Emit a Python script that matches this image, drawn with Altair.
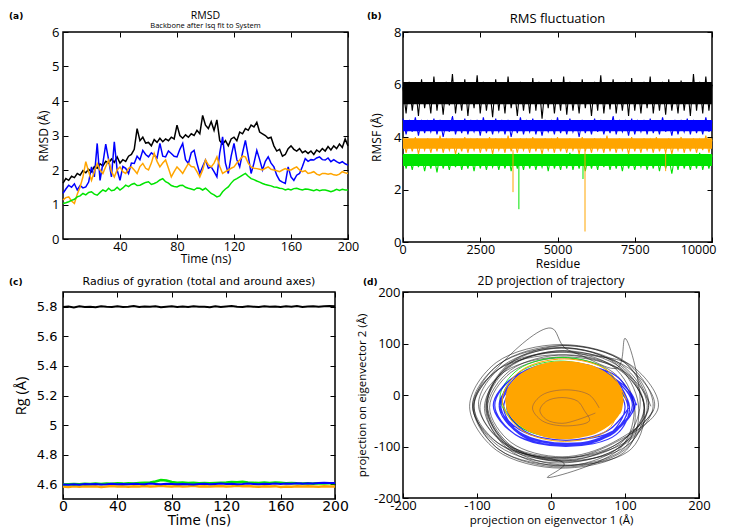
import altair as alt
import pandas as pd

COL = {"black": "#000000", "blue": "#0000ff", "green": "#00e400", "orange": "#ffa500"}

# ---------------- (a) RMSD ----------------
rmsd_time = list(range(0, 201, 2))
rmsd_black = [1.62, 1.75, 1.70, 1.82, 1.78, 1.90, 1.85, 1.98, 1.92, 2.02,
              1.95, 2.10, 2.05, 2.18, 2.12, 2.25, 2.20, 2.32, 2.22, 2.38,
              2.20, 2.30, 2.25, 2.40, 2.45, 2.60, 3.20, 2.85, 2.95, 2.78,
              2.80, 2.70, 2.88, 2.80, 2.92, 2.82, 2.90, 2.85, 2.95, 2.90,
              3.30, 3.00, 2.92, 3.02, 2.95, 3.05, 3.00, 3.15, 3.05, 3.58,
              3.30, 3.20, 3.40, 3.15, 3.45, 2.85, 2.75, 2.85, 2.70, 2.90,
              2.95, 2.85, 3.10, 3.05, 3.20, 3.15, 3.30, 3.25, 3.38, 3.10,
              3.05, 3.00, 2.92, 2.95, 2.70, 2.55, 2.60, 2.40, 2.45, 2.62,
              2.70, 2.60, 2.55, 2.62, 2.50, 2.55, 2.48, 2.55, 2.45, 2.58,
              2.52, 2.62, 2.55, 2.68, 2.58, 2.70, 2.62, 2.75, 2.65, 2.90,
              2.70]
rmsd_blue = [1.32, 1.45, 1.56, 1.50, 1.60, 1.42, 1.55, 1.48, 1.51, 1.65,
             2.09, 1.80, 2.77, 1.70, 2.20, 2.75, 2.30, 1.80, 2.82, 2.00,
             1.70, 2.10, 2.05, 1.90, 2.20, 2.19, 2.40, 2.30, 2.57, 2.45,
             2.38, 2.50, 2.43, 2.35, 2.77, 2.40, 2.38, 2.55, 2.48, 2.40,
             2.38, 2.60, 2.77, 2.30, 2.19, 2.50, 2.57, 2.20, 1.90, 2.10,
             2.29, 2.05, 2.09, 1.95, 1.80, 2.50, 2.96, 2.20, 1.90, 2.40,
             2.77, 2.30, 2.09, 2.50, 2.86, 2.40, 1.90, 2.20, 2.57, 2.30,
             2.00, 2.25, 2.38, 2.20, 2.09, 1.85, 1.70, 1.65, 1.61, 2.09,
             1.80, 1.70, 1.85, 1.90, 2.10, 2.33, 2.25, 2.30, 2.29, 2.35,
             2.38, 2.30, 2.29, 2.35, 2.24, 2.30, 2.24, 2.20, 2.24, 2.18,
             2.14]
rmsd_orange = [1.13, 1.20, 1.22, 1.10, 1.03, 1.30, 1.51, 1.80, 2.24, 1.95,
               1.70, 1.95, 2.19, 2.00, 1.90, 2.10, 2.29, 1.95, 1.80, 2.00,
               2.09, 1.95, 1.90, 2.05, 2.09, 2.00, 1.90, 2.10, 2.19, 2.05,
               2.00, 2.20, 2.48, 2.25, 2.09, 2.20, 2.29, 2.05, 1.80, 1.95,
               2.09, 2.00, 1.90, 2.05, 2.19, 2.10, 2.09, 1.95, 1.80, 2.00,
               2.29, 2.15, 2.09, 2.20, 2.38, 2.10, 1.90, 1.95, 2.00, 2.05,
               2.09, 2.20, 2.29, 2.40, 2.38, 2.20, 2.09, 2.05, 2.04, 2.02,
               2.00, 2.05, 2.09, 2.02, 2.00, 1.98, 1.95, 2.00, 2.04, 2.00,
               2.00, 2.05, 2.09, 2.00, 1.95, 1.98, 1.90, 1.92, 1.95, 1.88,
               1.85, 1.90, 1.90, 1.88, 1.90, 1.86, 1.85, 1.88, 1.95, 1.92,
               1.90]
rmsd_green = [1.03, 1.05, 1.08, 1.12, 1.15, 1.22, 1.25, 1.32, 1.28, 1.35,
              1.37, 1.30, 1.27, 1.35, 1.42, 1.38, 1.47, 1.40, 1.42, 1.50,
              1.42, 1.48, 1.56, 1.52, 1.58, 1.61, 1.55, 1.56, 1.60, 1.64,
              1.66, 1.58, 1.61, 1.65, 1.71, 1.75, 1.66, 1.62, 1.55, 1.52,
              1.51, 1.55, 1.56, 1.50, 1.47, 1.45, 1.42, 1.48, 1.47, 1.42,
              1.47, 1.40, 1.32, 1.28, 1.22, 1.25, 1.37, 1.45, 1.51, 1.62,
              1.71, 1.75, 1.80, 1.85, 1.90, 1.82, 1.75, 1.72, 1.68, 1.65,
              1.61, 1.58, 1.56, 1.54, 1.51, 1.50, 1.47, 1.46, 1.42, 1.45,
              1.42, 1.46, 1.47, 1.44, 1.42, 1.45, 1.44, 1.42, 1.40, 1.43,
              1.40, 1.42, 1.42, 1.40, 1.37, 1.40, 1.44, 1.41, 1.44, 1.42,
              1.42]

# ---------------- (b) RMSF ----------------
rmsf_residue = list(range(0, 10001, 100))
rmsf_black = [5.9, 4.9, 6.1, 5.0, 6.0, 4.8, 6.2, 5.1, 5.9, 4.9,
              6.3, 5.0, 6.0, 4.85, 6.1, 5.2, 6.4, 4.9, 5.9, 5.0,
              6.2, 4.8, 6.0, 5.1, 6.35, 4.9, 6.1, 5.0, 5.95, 4.75,
              6.2, 5.0, 6.0, 4.9, 6.3, 5.1, 5.9, 4.8, 6.1, 5.0,
              6.0, 4.9, 6.25, 5.0, 6.1, 4.7, 5.95, 5.1, 6.2, 4.9,
              6.0, 5.0, 6.3, 4.85, 6.1, 5.0, 5.9, 4.9, 6.2, 5.1,
              6.0, 4.8, 6.1, 5.0, 6.35, 4.9, 6.0, 5.05, 6.2, 4.9,
              5.95, 5.0, 6.1, 4.8, 6.25, 5.0, 6.0, 4.9, 6.1, 5.1,
              6.3, 4.9, 6.0, 5.0, 6.1, 4.85, 6.2, 5.0, 5.9, 4.9,
              6.15, 5.0, 6.0, 4.8, 6.4, 5.0, 6.1, 4.9, 6.3, 5.0,
              6.0]
rmsf_blue = [4.7, 4.1, 4.6, 4.2, 4.75, 4.05, 4.65, 4.15, 4.6, 4.2,
             4.7, 4.1, 4.65, 4.0, 4.6, 4.2, 4.8, 4.1, 4.6, 4.15,
             4.7, 4.1, 4.6, 4.2, 4.65, 4.05, 4.75, 4.15, 4.6, 4.1,
             4.7, 4.2, 4.6, 4.1, 4.65, 4.0, 4.6, 4.15, 4.75, 4.1,
             4.6, 4.2, 4.7, 4.1, 4.6, 4.05, 4.65, 4.2, 4.6, 4.1,
             4.75, 4.15, 4.6, 4.1, 4.7, 4.2, 4.6, 4.0, 4.65, 4.15,
             4.6, 4.1, 4.7, 4.2, 4.65, 4.1, 4.6, 4.15, 4.8, 4.1,
             4.6, 4.2, 4.65, 4.05, 4.7, 4.1, 4.6, 4.2, 4.65, 4.1,
             4.7, 4.15, 4.6, 4.1, 4.75, 4.2, 4.6, 4.05, 4.65, 4.1,
             4.6, 4.2, 4.7, 4.1, 4.65, 4.15, 4.6, 4.1, 4.75, 4.2,
             4.6]
rmsf_orange = [3.95, 3.4, 3.9, 3.45, 4.0, 3.35, 3.9, 3.5, 3.95, 3.4,
               3.9, 3.45, 4.05, 3.4, 3.9, 3.5, 3.95, 3.35, 3.9, 3.45,
               4.0, 3.4, 3.9, 3.5, 3.95, 3.4, 3.9, 3.45, 4.0, 3.35,
               3.95, 3.5, 3.9, 3.4, 4.05, 3.45, 3.9, 3.4, 3.95, 3.5,
               3.9, 3.4, 4.0, 3.45, 3.9, 3.35, 3.95, 3.5, 3.9, 3.4,
               4.0, 3.45, 3.9, 3.4, 3.95, 3.5, 3.9, 3.35, 4.0, 3.45,
               3.9, 3.4, 3.95, 3.5, 3.9, 3.4, 4.05, 3.45, 3.9, 3.4,
               3.95, 3.5, 3.9, 3.35, 4.0, 3.45, 3.9, 3.4, 3.95, 3.5,
               3.9, 3.4, 4.0, 3.45, 3.9, 3.4, 3.95, 3.35, 3.9, 3.5,
               4.0, 3.4, 3.9, 3.45, 3.95, 3.4, 3.9, 3.5, 4.05, 3.4,
               3.9]
rmsf_green = [3.3, 2.8, 3.25, 2.75, 3.35, 2.85, 3.3, 2.7, 3.25, 2.8,
              3.3, 2.65, 3.35, 2.8, 3.25, 2.75, 3.3, 2.85, 3.4, 2.75,
              3.25, 2.8, 3.3, 2.7, 3.35, 2.8, 3.25, 2.75, 3.3, 2.85,
              3.3, 2.75, 3.25, 2.8, 3.35, 2.7, 3.3, 2.8, 3.25, 2.75,
              3.35, 2.8, 3.3, 2.75, 3.25, 2.85, 3.3, 2.7, 3.35, 2.8,
              3.25, 2.75, 3.3, 2.8, 3.4, 2.75, 3.25, 2.8, 3.3, 2.7,
              3.3, 2.8, 3.25, 2.75, 3.35, 2.85, 3.3, 2.75, 3.25, 2.8,
              3.3, 2.7, 3.35, 2.8, 3.25, 2.75, 3.3, 2.85, 3.3, 2.75,
              3.25, 2.8, 3.35, 2.7, 3.3, 2.8, 3.25, 2.6, 3.3, 2.75,
              3.35, 2.8, 3.25, 2.75, 3.3, 2.8, 3.4, 2.75, 3.25, 2.8,
              3.3]
core_series = ["black", "blue", "orange", "green"]
core_low = [5.25, 4.22, 3.55, 2.9]
core_high = [6.1, 4.65, 3.95, 3.35]
spike_residue = [3560, 3750, 5825, 5890, 8500]
spike_top = [3.5, 2.9, 2.9, 3.5, 3.45]
spike_bottom = [1.9, 1.25, 2.4, 0.4, 2.7]
spike_series = ["orange", "green", "green", "orange", "orange"]

# ---------------- (c) Radius of gyration ----------------
rg_time = list(range(0, 201, 4))
rg_black = [5.798, 5.802, 5.796, 5.803, 5.799, 5.801, 5.797, 5.804, 5.800, 5.798,
            5.803, 5.799, 5.801, 5.805, 5.798, 5.802, 5.800, 5.804, 5.797, 5.801,
            5.803, 5.799, 5.802, 5.798, 5.804, 5.800, 5.801, 5.797, 5.803, 5.799,
            5.802, 5.805, 5.800, 5.798, 5.803, 5.801, 5.799, 5.804, 5.800, 5.802,
            5.798, 5.803, 5.801, 5.805, 5.799, 5.802, 5.804, 5.800, 5.803, 5.806,
            5.804]
rg_green = [4.598, 4.600, 4.602, 4.600, 4.603, 4.601, 4.604, 4.602, 4.605, 4.603,
            4.606, 4.604, 4.607, 4.605, 4.608, 4.610, 4.612, 4.618, 4.628, 4.625,
            4.615, 4.610, 4.612, 4.608, 4.610, 4.607, 4.609, 4.606, 4.608, 4.610,
            4.612, 4.615, 4.613, 4.616, 4.612, 4.610, 4.608, 4.611, 4.609, 4.612,
            4.610, 4.607, 4.609, 4.606, 4.605, 4.607, 4.604, 4.606, 4.605, 4.607,
            4.606]
rg_blue = [4.598, 4.596, 4.600, 4.597, 4.601, 4.599, 4.602, 4.598, 4.600, 4.603,
           4.600, 4.602, 4.599, 4.603, 4.601, 4.600, 4.604, 4.602, 4.600, 4.603,
           4.601, 4.599, 4.602, 4.600, 4.598, 4.601, 4.603, 4.600, 4.602, 4.604,
           4.601, 4.603, 4.600, 4.602, 4.605, 4.602, 4.600, 4.603, 4.601, 4.604,
           4.602, 4.605, 4.603, 4.606, 4.604, 4.607, 4.605, 4.608, 4.610, 4.608,
           4.609]
rg_orange = [4.585, 4.582, 4.586, 4.583, 4.587, 4.584, 4.586, 4.582, 4.585, 4.588,
             4.584, 4.586, 4.583, 4.587, 4.585, 4.588, 4.584, 4.586, 4.590, 4.587,
             4.585, 4.588, 4.584, 4.586, 4.589, 4.585, 4.587, 4.584, 4.586, 4.588,
             4.585, 4.587, 4.590, 4.586, 4.588, 4.585, 4.583, 4.586, 4.584, 4.587,
             4.582, 4.585, 4.583, 4.586, 4.584, 4.587, 4.585, 4.583, 4.586, 4.584,
             4.585]

# ---------------- (d) 2D projection ----------------
proj_black_x = [135, 100, 15, -70, -104, -72, 15, 100,
                126, 95, 18, -58, -90, -57, 18, -5, 94,
                112, 84, 12, -60, -87, -59, 12, 83,
                145, 109, 20, 0, -69, -105, -70, 20, 109,
                126, 93, 14, -65, -98, -64, 14, 93,
                120, 100, 90, 16, -58, -88, -58, 16, 90,
                126, 92, 10, -72, -106, -72, 10, 92,
                132, 100, 22, -56, -88, -56, 22, 100,
                113, 84, 15, -54, -83, -54, 15, 84,
                140, 104, 18, -68, -104, -68, 18, 104,
                130, 95, 12, -71, -106, -71, 12, 95,
                126, 95, 20, -55, -86, -55, 20, 95,
                138, 102, 14, -74, -110, -74, 14, 102,
                118, 88, 16, -56, -86, -56, 16, 88,
                132, 99, 18, -63, -96, -63, 18, 99, 138]
proj_black_y = [-22, 63, 96, 60, -20, -104, -140, -106,
                -25, 52, 86, 54, -26, -102, -134, -160, -103,
                -20, 55, 83, 53, -20, -95, -124, -95,
                -24, 57, 90, 130, 58, -24, -106, -137, -104,
                -18, 58, 91, 57, -18, -94, -126, -95,
                -26, 110, 53, 86, 52, -27, -105, -138, -104,
                -22, 49, 78, 49, -22, -93, -122, -93,
                -20, 62, 96, 62, -20, -102, -136, -102,
                -24, 44, 72, 44, -24, -92, -120, -92,
                -22, 53, 84, 53, -22, -97, -128, -97,
                -20, 59, 92, 59, -20, -99, -132, -99,
                -26, 48, 78, 48, -26, -100, -130, -100,
                -22, 63, 98, 63, -22, -107, -142, -107,
                -18, 60, 92, 60, -18, -96, -128, -96,
                -24, 45, 74, 45, -24, -93, -122, -93, -30]
proj_green_x = [99, 74, 15, -44, -69, -44, 15, 74, 90, 67, 12, -43, -66, -43, 12, 67, 95]
proj_green_y = [-5, 50, 73, 50, -5, -60, -83, -60, -8, 44, 66, 44, -8, -60, -82, -60, -6]
proj_blue_x = [116, 88, 20, -48, -76, -48, 20, 88,
               106, 80, 18, -44, -70, -44, 18, 80,
               114, 87, 22, -43, -70, -43, 22, 87,
               104, 79, 20, -39, -64, -39, 20, 79,
               110, 82, 16, -50, -78, -50, 16, 82,
               112, 86, 22, -42, -68, -42, 22, 86,
               104, 79, 18, -43, -68, -43, 18, 79,
               100, 77, 20, -37, -60, -37, 20, 77, 105]
proj_blue_y = [-20, 37, 60, 37, -20, -77, -100, -77,
               -22, 30, 52, 30, -22, -74, -96, -74,
               -18, 31, 52, 31, -18, -67, -88, -67,
               -24, 30, 52, 30, -24, -78, -100, -78,
               -20, 35, 58, 35, -20, -75, -98, -75,
               -22, 29, 50, 29, -22, -73, -94, -73,
               -18, 40, 64, 40, -18, -76, -100, -76,
               -22, 25, 44, 25, -22, -69, -88, -69, -25]
orange_area_x = [-62, -60, -56, -50, -40, -25, -10, 5, 18, 30, 45, 60, 72, 84, 92, 96, 98]
orange_area_hi = [-10, 7, 19, 30, 42, 54, 61, 65, 66, 65, 61, 55, 46, 33, 19, 8, -10]
orange_area_lo = [-10, -27, -39, -50, -62, -74, -81, -85, -86, -85, -81, -75, -66, -53, -39, -28, -10]
proj_orange_x = [102, 77, 18, -41, -66, -41, 18, 77, 92, 71, 20, -31, -52, -31, 20, 71, 98]
proj_orange_y = [-10, 47, 70, 47, -10, -67, -90, -67, -8, 41, 62, 41, -8, -57, -78, -57, -12]
proj_inner_x = [65, 52, 20, -12, -25, -12, 20, 52, 45, 36, 15, -6, -15, -6, 15, 36, 60]
proj_inner_y = [-25, 0, 10, 0, -25, -50, -60, -50, -30, -12, -5, -12, -30, -48, -55, -48, -35]

TICK = 5
SANS = "Open Sans"
WIDE = "DejaVu Sans"
PLAIN = "'' + datum.value"


def axis_main(orient, values, title, lab_font, lab_size, tit_font, tit_size,
              lab_pad, tit_pad, expr=PLAIN, flush=False):
    kw = dict(orient=orient, values=values, title=title, offset=-TICK, tickSize=TICK,
              tickColor="black", tickWidth=1, domain=False, grid=False,
              labelPadding=lab_pad, labelFont=lab_font, labelFontSize=lab_size,
              labelColor="black", labelFlush=flush, labelOverlap=False,
              labelExpr=expr, minExtent=0,
              titleFont=tit_font, titleFontSize=tit_size, titleFontWeight="normal",
              titleColor="black", titlePadding=tit_pad)
    if flush:
        kw["labelFlushOffset"] = 4
    return alt.Axis(**kw)


def axis_mirror(orient, values):
    return alt.Axis(orient=orient, values=values, title=None, labels=False,
                    offset=-TICK, tickSize=TICK, tickColor="black", tickWidth=1,
                    domain=False, grid=False, minExtent=0, maxExtent=0)


def panel_label(text, dx, dy):
    return alt.Chart(pd.DataFrame({"lab": [text]})).mark_text(
        align="left", baseline="top", font=WIDE, fontSize=9, fontWeight="bold",
        color="black").encode(text="lab:N", x=alt.value(dx), y=alt.value(dy))


# ---------- panel (a)
df_a = pd.DataFrame({"t": rmsd_time, "black": rmsd_black, "blue": rmsd_blue,
                     "orange": rmsd_orange, "green": rmsd_green})
xa = alt.Scale(domain=[0, 200], nice=False, zero=False)
ya = alt.Scale(domain=[0, 6], nice=False, zero=False)
xv_a = [40, 80, 120, 160, 200]
yv_a = [0, 1, 2, 3, 4, 5, 6]
base_a = alt.Chart(df_a)
la = [
    base_a.mark_line(color=COL["black"], strokeWidth=1.5).encode(
        x=alt.X("t:Q", scale=xa, axis=axis_main("bottom", xv_a, "Time (ns)", SANS, 12.5, SANS, 12, 1, 1)),
        y=alt.Y("black:Q", scale=ya, axis=axis_main("left", yv_a, "RMSD (Å)", SANS, 13, SANS, 12, 4, 1))),
    base_a.mark_line(color=COL["blue"], strokeWidth=1.5).encode(
        x=alt.X("t:Q", scale=xa, axis=axis_mirror("top", xv_a)),
        y=alt.Y("blue:Q", scale=ya, axis=axis_mirror("right", yv_a))),
    base_a.mark_line(color=COL["orange"], strokeWidth=1.5).encode(
        x=alt.X("t:Q", scale=xa, axis=None), y=alt.Y("orange:Q", scale=ya, axis=None)),
    base_a.mark_line(color=COL["green"], strokeWidth=1.5).encode(
        x=alt.X("t:Q", scale=xa, axis=None), y=alt.Y("green:Q", scale=ya, axis=None)),
    panel_label("(a)", -54, -20),
]
pa = alt.layer(*la).resolve_axis(x="independent", y="independent").properties(
    width=285, height=207,
    title=alt.TitleParams("RMSD", subtitle="Backbone after lsq fit to System", font=SANS,
                          fontSize=10.5, fontWeight="normal", color="black",
                          subtitleFont=SANS, subtitleFontSize=7.5, subtitleColor="black",
                          subtitlePadding=0, offset=-17, anchor="middle"))

# ---------- panel (b)
df_b = pd.DataFrame({"r": rmsf_residue, "black": rmsf_black, "blue": rmsf_blue,
                     "orange": rmsf_orange, "green": rmsf_green})
df_core = pd.DataFrame({"series": core_series, "lo": core_low, "hi": core_high,
                        "x0": [0] * 4, "x1": [10000] * 4})
df_spk = pd.DataFrame({"r": spike_residue, "top": spike_top, "bot": spike_bottom,
                       "series": spike_series})
xb = alt.Scale(domain=[0, 10000], nice=False, zero=False)
yb = alt.Scale(domain=[0, 8], nice=False, zero=False)
ser_scale = alt.Scale(domain=list(COL.keys()), range=list(COL.values()))
xv_b = [0, 2500, 5000, 7500, 10000]
yv_b = [0, 2, 4, 6, 8]
base_b = alt.Chart(df_b)
lb = [
    alt.Chart(df_core).mark_rect().encode(
        x=alt.X("x0:Q", scale=xb, axis=None), x2="x1:Q",
        y=alt.Y("lo:Q", scale=yb, axis=None), y2="hi:Q",
        color=alt.Color("series:N", scale=ser_scale, legend=None)),
    base_b.mark_line(color=COL["black"], strokeWidth=1.1).encode(
        x=alt.X("r:Q", scale=xb, axis=axis_main("bottom", xv_b, "Residue", SANS, 12.5, SANS, 12, 1, 3,
                                                flush=True)),
        y=alt.Y("black:Q", scale=yb, axis=axis_main("left", yv_b, "RMSF (Å)", SANS, 13, SANS, 12, 2, 10))),
    base_b.mark_line(color=COL["blue"], strokeWidth=1.1).encode(
        x=alt.X("r:Q", scale=xb, axis=axis_mirror("top", xv_b)),
        y=alt.Y("blue:Q", scale=yb, axis=axis_mirror("right", yv_b))),
    base_b.mark_line(color=COL["green"], strokeWidth=1.1).encode(
        x=alt.X("r:Q", scale=xb, axis=None), y=alt.Y("green:Q", scale=yb, axis=None)),
    base_b.mark_line(color=COL["orange"], strokeWidth=1.1).encode(
        x=alt.X("r:Q", scale=xb, axis=None), y=alt.Y("orange:Q", scale=yb, axis=None)),
    alt.Chart(df_spk).mark_rule(strokeWidth=1).encode(
        x=alt.X("r:Q", scale=xb, axis=None),
        y=alt.Y("top:Q", scale=yb, axis=None), y2="bot:Q",
        color=alt.Color("series:N", scale=ser_scale, legend=None)),
    panel_label("(b)", -36, -20),
]
pb = alt.layer(*lb).resolve_axis(x="independent", y="independent").properties(
    width=309, height=210,
    title=alt.TitleParams("RMS fluctuation", font=SANS, fontSize=13, fontWeight="normal",
                          color="black", offset=-14, anchor="middle"))

# ---------- panel (c)
df_c = pd.DataFrame({"t": rg_time, "black": rg_black, "green": rg_green,
                     "blue": rg_blue, "orange": rg_orange})
xc = alt.Scale(domain=[0, 200], nice=False, zero=False)
yc = alt.Scale(domain=[4.5, 5.9], nice=False, zero=False)
xv_c = [0, 40, 80, 120, 160, 200]
yv_c = [4.6, 4.8, 5.0, 5.2, 5.4, 5.6, 5.8]
base_c = alt.Chart(df_c)
lc = [
    base_c.mark_line(color=COL["black"], strokeWidth=2).encode(
        x=alt.X("t:Q", scale=xc, axis=axis_main("bottom", xv_c, "Time (ns)", WIDE, 14, WIDE, 13.5, 0, 0)),
        y=alt.Y("black:Q", scale=yc, axis=axis_main("left", yv_c, "Rg (Å)", WIDE, 13, SANS, 14.5, 6, 8,
                                                      expr="format(datum.value, '~g')"))),
    base_c.mark_line(color=COL["orange"], strokeWidth=2.5).encode(
        x=alt.X("t:Q", scale=xc, axis=axis_mirror("top", xv_c)),
        y=alt.Y("orange:Q", scale=yc, axis=axis_mirror("right", yv_c))),
    base_c.mark_line(color=COL["green"], strokeWidth=2.5).encode(
        x=alt.X("t:Q", scale=xc, axis=None), y=alt.Y("green:Q", scale=yc, axis=None)),
    base_c.mark_line(color=COL["blue"], strokeWidth=2).encode(
        x=alt.X("t:Q", scale=xc, axis=None), y=alt.Y("blue:Q", scale=yc, axis=None)),
    panel_label("(c)", -54, -14),
]
pc = alt.layer(*lc).resolve_axis(x="independent", y="independent").properties(
    width=272, height=207,
    title=alt.TitleParams("Radius of gyration (total and around axes)", font=WIDE, fontSize=11,
                          fontWeight="normal", color="black", offset=-9, anchor="middle"))

# ---------- panel (d)
def traj(xs, ys):
    return pd.DataFrame({"i": list(range(len(xs))), "x": xs, "y": ys})

xd = alt.Scale(domain=[-200, 200], nice=False, zero=False)
yd = alt.Scale(domain=[-200, 200], nice=False, zero=False)
xv_d = [-200, -100, 0, 100, 200]
yv_d = [-200, -100, 0, 100, 200]
df_area = pd.DataFrame({"x": orange_area_x, "hi": orange_area_hi, "lo": orange_area_lo})
ld = [
    alt.Chart(traj(proj_black_x, proj_black_y)).mark_line(
        color="#111111", strokeWidth=0.9, opacity=0.6, interpolate="catmull-rom").encode(
        x=alt.X("x:Q", scale=xd, axis=axis_main("bottom", xv_d, "projection on eigenvector 1 (Å)",
                                                SANS, 13, SANS, 11.5, 1, 2)),
        y=alt.Y("y:Q", scale=yd, axis=axis_main("left", yv_d, "projection on eigenvector 2 (Å)",
                                                SANS, 13, SANS, 11.5, 3, 6)),
        order="i:Q"),
    alt.Chart(traj(proj_green_x, proj_green_y)).mark_line(
        color=COL["green"], strokeWidth=1, opacity=0.8, interpolate="catmull-rom").encode(
        x=alt.X("x:Q", scale=xd, axis=axis_mirror("top", xv_d)),
        y=alt.Y("y:Q", scale=yd, axis=axis_mirror("right", yv_d)),
        order="i:Q"),
    alt.Chart(traj(proj_blue_x, proj_blue_y)).mark_line(
        color=COL["blue"], strokeWidth=1.2, opacity=0.8, interpolate="catmull-rom").encode(
        x=alt.X("x:Q", scale=xd, axis=None), y=alt.Y("y:Q", scale=yd, axis=None), order="i:Q"),
    alt.Chart(df_area).mark_area(color=COL["orange"], interpolate="monotone").encode(
        x=alt.X("x:Q", scale=xd, axis=None), y=alt.Y("hi:Q", scale=yd, axis=None), y2="lo:Q"),
    alt.Chart(traj(proj_orange_x, proj_orange_y)).mark_line(
        color=COL["orange"], strokeWidth=1, interpolate="catmull-rom").encode(
        x=alt.X("x:Q", scale=xd, axis=None), y=alt.Y("y:Q", scale=yd, axis=None), order="i:Q"),
    alt.Chart(traj(proj_inner_x, proj_inner_y)).mark_line(
        color="#3a2a80", strokeWidth=0.8, opacity=0.45, interpolate="catmull-rom").encode(
        x=alt.X("x:Q", scale=xd, axis=None), y=alt.Y("y:Q", scale=yd, axis=None), order="i:Q"),
    panel_label("(d)", -40, -14),
]
pd_ = alt.layer(*ld).resolve_axis(x="independent", y="independent").properties(
    width=296, height=206,
    title=alt.TitleParams("2D projection of trajectory", font=SANS, fontSize=12,
                          fontWeight="normal", color="black", offset=-10, anchor="middle"))

chart = alt.concat(pa, pb, pc, pd_, columns=2, spacing={"row": 3, "column": -5},
                   align="each").properties(
    padding={"left": 0, "top": 2, "right": 0, "bottom": 0}).configure_view(
    stroke="black", strokeWidth=1.5)

chart.save("out.html", embed_options={"renderer": "svg", "actions": False})
